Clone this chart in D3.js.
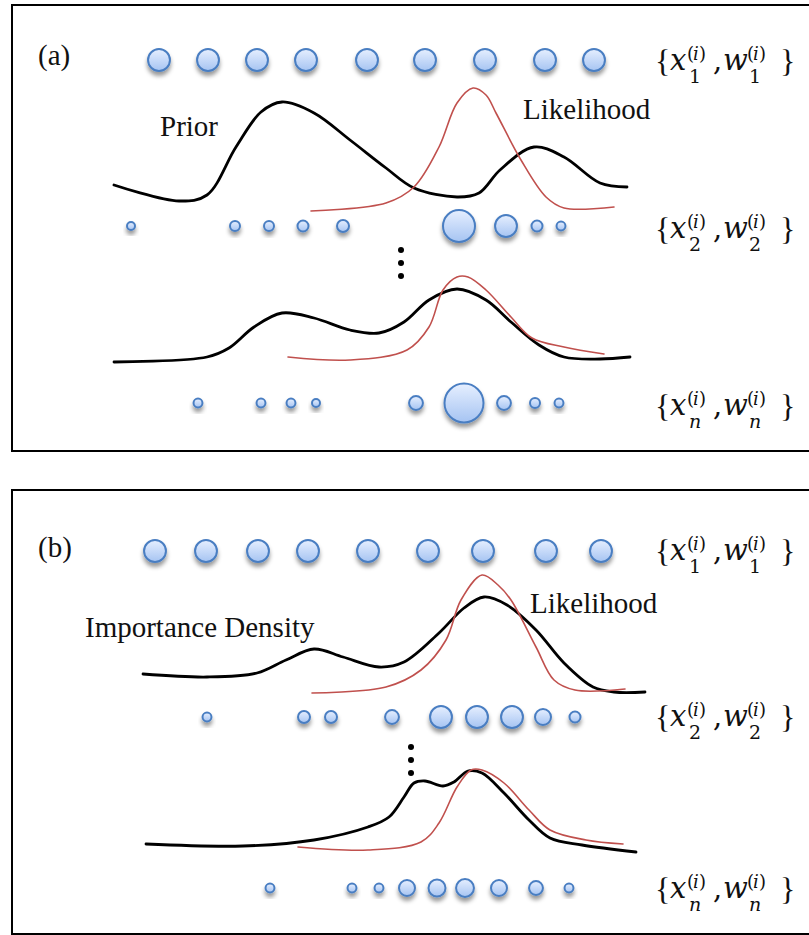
<!DOCTYPE html>
<html>
<head>
<meta charset="utf-8">
<script src="https://cdn.jsdelivr.net/npm/d3@7"></script>
<style>
  body { margin: 0; background: #fff; }
  svg { display: block; }
  .lbl { font-family: "Liberation Serif", "Times New Roman", serif; font-size: 29px; fill: #111; }
  .math { font-family: "DejaVu Serif", "Liberation Serif", serif; fill: #111; }
  .brace { font-family: "Liberation Serif", serif; }
</style>
</head>
<body>
<svg id="fig" width="809" height="935"></svg>
<script>
// particle rows: position on the state axis and weight
const a1X = [5.9, 10.8, 15.7, 20.6, 26.7, 32.5, 38.5, 44.5, 49.4]
const a1W = [0.3, 0.3, 0.3, 0.3, 0.3, 0.3, 0.3, 0.3, 0.3]
const a2X = [3.1, 13.5, 16.9, 20.3, 24.3, 35.9, 40.6, 43.7, 46.1]
const a2W = [0.04, 0.0625, 0.0625, 0.076, 0.09, 0.64, 0.3, 0.076, 0.05]
const anX = [9.8, 16.1, 19.1, 21.6, 31.6, 36.4, 40.4, 43.5, 45.9]
const anW = [0.05, 0.05, 0.05, 0.04, 0.12, 0.95, 0.12, 0.0625, 0.05]
const b1X = [5.5, 10.6, 15.8, 20.8, 26.8, 32.8, 38.3, 44.6, 50.1]
const b1W = [0.3, 0.3, 0.3, 0.3, 0.3, 0.3, 0.3, 0.3, 0.3]
const b2X = [10.7, 20.4, 23.1, 29.2, 34.1, 37.7, 41.2, 44.3, 47.5]
const b2W = [0.05, 0.09, 0.09, 0.12, 0.3, 0.3, 0.3, 0.16, 0.076]
const bnX = [17.0, 25.2, 27.9, 30.7, 33.7, 36.5, 39.9, 43.6, 46.9]
const bnW = [0.05, 0.05, 0.05, 0.16, 0.18, 0.2, 0.16, 0.12, 0.05]

// densities: [state, height]
const priorA = [[1.4,3.0],[7.9,1.4],[10.7,2.0],[13.6,6.8],[16.1,10.3],[18.2,11.3],[21.4,10.2],[25.0,7.5],[28.6,4.7],[31.4,2.7],[35.7,1.8],[37.9,2.2],[40.0,4.5],[43.4,6.8],[46.4,5.8],[50.0,3.2],[52.7,2.8]]
const likeA = [[21.1,0.4],[28.6,1.2],[31.4,2.8],[33.9,6.8],[35.7,11.2],[37.3,12.7],[38.6,12.0],[39.6,10.2],[42.1,5.5],[44.6,1.8],[46.4,0.7],[51.4,0.8]]
const priorAn = [[1.4,0.3],[10.7,0.8],[12.9,1.7],[15.4,3.8],[18.2,5.2],[21.4,4.7],[25.0,3.5],[27.9,3.2],[30.4,4.3],[32.9,6.5],[35.7,7.6],[38.6,6.5],[41.1,4.3],[43.9,2.0],[46.4,0.8],[50.0,0.6],[53.0,0.8]]
const likeAn = [[18.8,0.8],[25.0,0.5],[30.7,1.5],[32.9,3.8],[34.3,7.5],[35.7,8.8],[36.8,8.8],[38.6,7.5],[41.1,4.8],[43.2,2.7],[46.4,1.8],[50.4,1.1]]
const impB = [[4.3,2.6],[10.7,2.3],[15.7,2.7],[18.6,4.0],[21.4,5.1],[24.3,4.3],[27.9,3.3],[30.4,3.8],[33.9,6.7],[36.4,9.2],[38.4,10.3],[40.7,9.5],[43.6,7.0],[46.4,3.7],[49.3,1.3],[51.4,0.8],[54.5,0.8]]
const likeB = [[21.2,0.7],[28.6,1.3],[32.1,3.0],[34.6,6.0],[36.1,10.0],[38.2,12.5],[39.8,11.5],[41.1,10.0],[43.6,5.3],[45.4,2.0],[47.5,1.0],[52.5,1.1]]
const impBn = [[4.6,1.1],[14.3,0.9],[21.4,1.5],[26.8,2.8],[28.9,3.8],[30.4,5.8],[31.4,7.2],[32.5,7.4],[34.3,6.9],[35.4,7.3],[36.8,8.4],[38.2,8.2],[40.4,6.2],[42.9,3.5],[45.0,1.7],[48.2,1.0],[53.6,0.3]]
const likeBn = [[19.8,0.8],[26.8,0.5],[32.1,1.3],[33.9,3.2],[35.7,6.8],[37.1,8.5],[38.2,8.5],[40.4,7.2],[42.9,4.5],[45.0,2.5],[48.6,1.5],[52.3,1.1]]

const svg = d3.select("#fig")
const x = d3.scaleLinear().domain([0, 56]).range([100, 660])
const r = d3.scaleSqrt().domain([0, 1]).range([0, 20])

// defs: bubble gradient + soft shadow
const defs = svg.append("defs")
const grad = defs.append("linearGradient").attr("id", "ball")
  .attr("x1", 0).attr("y1", 0).attr("x2", 0).attr("y2", 1)
grad.append("stop").attr("offset", "0%").attr("stop-color", "#e6efff")
grad.append("stop").attr("offset", "100%").attr("stop-color", "#a6c4f2")
defs.append("filter").attr("id", "shadow")
  .attr("x", "-50%").attr("y", "-50%").attr("width", "200%").attr("height", "220%")
  .append("feDropShadow").attr("dx", 0).attr("dy", 4).attr("stdDeviation", 2.2)
  .attr("flood-color", "#000").attr("flood-opacity", 0.4)

// frames
svg.append("rect").attr("x", 12).attr("y", 5).attr("width", 820).attr("height", 446)
  .attr("fill", "none").attr("stroke", "#000").attr("stroke-width", 2)
svg.append("rect").attr("x", 12).attr("y", 490).attr("width", 820).attr("height", 444)
  .attr("fill", "none").attr("stroke", "#000").attr("stroke-width", 2)

function particles(xs, ws, cy) {
  svg.append("g").selectAll("circle").data(d3.zip(xs, ws)).join("circle")
    .attr("cx", d => x(d[0])).attr("cy", cy).attr("r", d => r(d[1]))
    .attr("fill", "url(#ball)").attr("stroke", "#4a7ec2").attr("stroke-width", 2)
    .attr("filter", "url(#shadow)")
}

function density(pts, base, color, width) {
  const y = d3.scaleLinear().domain([0, 12]).range([base, base - 120])
  const line = d3.line().x(d => x(d[0])).y(d => y(d[1])).curve(d3.curveCatmullRom.alpha(0.5))
  svg.append("path").attr("d", line(pts)).attr("fill", "none")
    .attr("stroke", color).attr("stroke-width", width)
    .attr("stroke-linecap", "round").attr("stroke-linejoin", "round")
}

function vdots(cx, ys) {
  svg.append("g").selectAll("circle").data(ys).join("circle")
    .attr("cx", cx).attr("cy", d => d).attr("r", 3).attr("fill", "#000")
}

// {x_k^(i), w_k^(i)} as one text, pieces placed with tspans
function mathLabel(x0, cy, k) {
  const txt = svg.append("text").attr("class", "math")
  const t = (s, dx, dy, size, italic) => txt.append("tspan").text(s)
    .attr("x", x0 + dx).attr("y", cy + dy)
    .style("font-size", size + "px").style("font-style", italic ? "italic" : "normal")
  t("{", 0, 12, 32, false).attr("class", "brace")
  t("x", 15, 10, 29, true)
  t(k, 34, 23, 19, k == "n")
  t("(", 32, 0, 18, false); t("i", 38, 0, 18, true); t(")", 44, 0, 18, false)
  t(",", 58, 10, 29, false)
  t("w", 68, 10, 29, true)
  t(k, 94, 23, 19, k == "n")
  t("(", 92, 0, 18, false); t("i", 98, 0, 18, true); t(")", 104, 0, 18, false)
  t("}", 125, 12, 32, false).attr("class", "brace")
}

// panel (a)
svg.append("text").attr("class", "lbl").attr("x", 38).attr("y", 65).text("(a)")
particles(a1X, a1W, 60)
density(priorA, 215, "#000", 2.8)
density(likeA, 215, "#c0504d", 1.6)
svg.append("text").attr("class", "lbl").attr("x", 160).attr("y", 136).text("Prior")
svg.append("text").attr("class", "lbl").attr("x", 523).attr("y", 119).text("Likelihood")
particles(a2X, a2W, 226)
vdots(401, [250, 263, 276])
density(priorAn, 365, "#000", 2.8)
density(likeAn, 365, "#c0504d", 1.6)
particles(anX, anW, 403)
mathLabel(655, 60, "1")
mathLabel(655, 228, "2")
mathLabel(655, 405, "n")

// panel (b)
svg.append("text").attr("class", "lbl").attr("x", 38).attr("y", 557).text("(b)")
particles(b1X, b1W, 551)
density(impB, 700, "#000", 2.8)
density(likeB, 700, "#c0504d", 1.6)
svg.append("text").attr("class", "lbl").attr("x", 85).attr("y", 637).text("Importance Density")
svg.append("text").attr("class", "lbl").attr("x", 530).attr("y", 613).text("Likelihood")
particles(b2X, b2W, 717)
vdots(411, [747, 760, 773])
density(impBn, 855, "#000", 2.8)
density(likeBn, 855, "#c0504d", 1.6)
particles(bnX, bnW, 888)
mathLabel(655, 550, "1")
mathLabel(655, 716, "2")
mathLabel(655, 888, "n")
</script>
</body>
</html>
